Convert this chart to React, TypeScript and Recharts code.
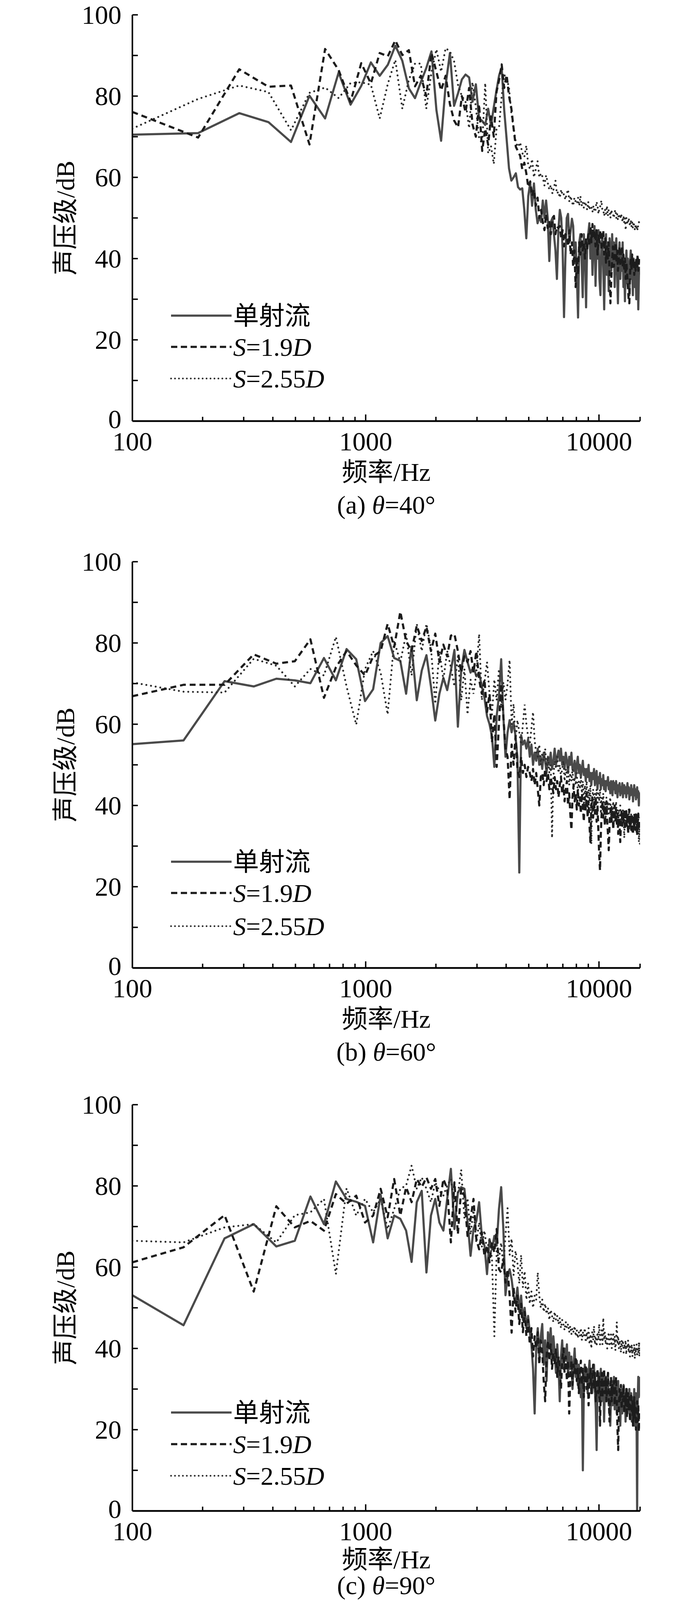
import React from 'react';
import { LineChart, Line, XAxis, YAxis } from 'recharts';

// ---------- frequency grid (FFT bins read from point spacing) ----------
const BIN_A_HZ = 95.7; // panel (a)
const BIN_BC_HZ = 82.8; // panels (b), (c)
const bins = (df: number, kMax: number) => [
  100,
  ...Array.from({ length: kMax - 1 }, (_, i) => Math.round((i + 2) * df * 10) / 10),
];
const FREQ_A = bins(BIN_A_HZ, 156);
const FREQ_BC = bins(BIN_BC_HZ, 181);

// ---------- ticks ----------
const X_MAJOR = [100, 1000, 10000];
const X_TICKS = [100, 200, 300, 400, 500, 600, 700, 800, 900, 1000, 2000, 3000, 4000, 5000, 6000, 7000, 8000, 9000, 10000, 15000];
const Y_TICKS = [0, 10, 20, 30, 40, 50, 60, 70, 80, 90, 100];
const Y_LABELED = [0, 20, 40, 60, 80, 100];

// ---------- series labels ----------
const SERIES_NAMES = ['单射流', 'S=1.9D', 'S=2.55D'];
const CAPTIONS = [
  { tag: '(a) ', angle: '=40°' },
  { tag: '(b) ', angle: '=60°' },
  { tag: '(c) ', angle: '=90°' },
];

// ---------- panel (a) θ=40° ----------
const SOLID_A = [
  70.5,
  70.9, 75.8, 73.6, 68.7, 80.1, 74.5, 85.8, 77.9, 82.5, 88.3,
  85.0, 87.7, 92.4, 88.7, 81.9, 79.5, 83.4, 86.9, 91.0, 76.6,
  69.0, 82.7, 90.6, 77.6, 80.7, 84.1, 85.3, 84.6, 78.6, 82.9,
  74.5, 73.9, 72.9, 76.9, 72.8, 77.3, 81.4, 85.1, 87.0, 76.6,
  69.4, 62.2, 59.2, 60, 61, 57.6, 57, 57.3, 52, 45,
  55.4, 58.7, 53, 58.5, 52, 48.7, 50.4, 49, 54.3, 50,
  54.3, 50, 39.4, 49, 50, 46, 42, 35, 47, 52,
  50, 42, 25.6, 40, 50, 51, 44, 47, 49.8, 48,
  38.8, 44, 36, 25.5, 44, 46, 40, 30.5, 46, 42,
  28, 44, 46, 48.7, 40, 47, 36, 44, 48, 33.3,
  44, 40, 47, 35, 31, 43, 46, 38, 27.5, 40,
  46, 36, 44, 32, 45, 42, 37, 46, 38, 44,
  33, 42, 45, 36, 29, 40, 44, 35, 41, 37,
  44, 33, 39, 29.5, 38, 42, 34, 40, 36, 31,
  39, 42, 35, 38, 31, 40, 36, 33, 38, 30,
  37, 39, 27.5, 36, 38,
];
const DASHED_A = [
  76.1,
  69.8, 86.6, 82.3, 82.6, 68.1, 91.6, 86.4, 78.6, 88.1, 83.1,
  90.6, 89.8, 93.7, 90.1, 91.3, 82.4, 85, 80, 90.6, 86,
  81.4, 85, 78, 74, 72.3, 80, 76, 82, 73, 70,
  78, 66.5, 72, 68, 75, 70, 81, 84, 87.8, 82,
  85.2, 80, 77, 72, 67.5, 66.4, 65.3, 62, 63.6, 61,
  57.6, 59, 55.4, 57, 53, 55, 50, 52, 49, 47,
  51, 47.5, 49, 46, 50, 50.5, 46, 48, 47.5, 48,
  45, 47, 43, 46, 45.5, 43, 47, 41, 44, 38,
  42, 33, 40, 36, 44, 41, 46, 42, 44, 40,
  45, 42, 46, 43, 48, 44, 48.5, 45, 47, 43,
  47, 41, 46, 44, 47, 42, 45, 47, 41, 45,
  39, 43, 40, 44, 36, 29, 35, 40, 43, 38,
  41, 44, 39, 42, 37, 40, 43, 38, 42, 43,
  38, 41, 37, 40, 35, 39, 36, 33, 30, 29,
  36, 40, 37, 41, 38, 40, 36, 39, 37, 40,
  38, 41, 37, 39, 40,
];
const DOTTED_A = [
  72.0,
  79.3, 82.6, 81.0, 71.6, 80.8, 82.1, 79.5, 83.2, 83.4, 82.8,
  74.5, 83.0, 88.9, 76.9, 84, 88, 88, 76.9, 85.8, 91.5,
  86, 91.8, 91, 88.6, 82.7, 80, 78.6, 72.1, 83.4, 77.3,
  69.7, 68.3, 83.2, 65.9, 67.7, 63.3, 71.8, 72.5, 80, 85.2,
  84.5, 82, 75.8, 72, 68.6, 67.5, 68.6, 66, 65, 67.8,
  63, 62, 64.5, 60, 62, 64, 60, 61, 60, 58,
  60.5, 58.7, 57, 58.1, 56, 57.5, 59.2, 56, 56.5, 55,
  57, 55.5, 55.9, 54.5, 56, 57, 54, 55.4, 54, 53,
  55, 54, 53.5, 55, 53, 55.4, 53, 54, 52.5, 54,
  53.2, 52, 54, 52, 53, 52.6, 51.5, 53, 51.5, 52,
  54, 53, 51, 52.5, 53, 54.3, 52, 52, 50.5, 52,
  51, 53, 50.5, 52, 51.5, 50, 52, 51, 51, 50,
  51.5, 52, 50, 51, 49.5, 51, 50.5, 49.8, 51, 50,
  49, 50.5, 49, 50, 47, 50, 49, 48.5, 50, 49,
  48, 49.5, 48, 49, 47.5, 49, 48, 47, 48.5, 47.2,
  48, 47, 48.5, 49, 48,
];

// ---------- panel (b) θ=60° ----------
const SOLID_B = [
  55.1,
  56.0, 70.6, 69.3, 71.2, 70.8, 70.1, 76.3, 70.8, 78.5, 76,
  65.7, 68.6, 80, 81.7, 76.3, 75.6, 67.5, 79.1, 65.9, 73.2,
  77, 69.3, 60.9, 67.5, 71.4, 68.4, 73.2, 78.3, 59.4, 73.2,
  78.3, 75.3, 72.7, 74.1, 71.8, 72.7, 69.3, 66.5, 62, 60,
  57, 49.5, 62, 67, 76, 62, 52, 58, 61, 58,
  60.5, 57, 52, 23.5, 57.3, 55, 56, 54, 56.4, 52,
  55, 50, 53, 51, 54, 50, 52, 49, 53, 51,
  48, 52, 50, 53, 49, 51, 54, 50, 52, 53.5,
  51, 54, 50, 52, 49, 53, 51, 48, 52, 50,
  53, 49, 48.5, 51, 47, 50, 52, 48, 50, 47,
  49, 51, 47.5, 49, 46, 49, 47, 50, 46, 48,
  45, 48, 46.5, 49, 45, 47, 48.5, 44, 47, 45.5,
  48, 44, 46.5, 45, 47.5, 44, 46, 43.5, 46, 45,
  47, 44, 45.6, 43, 46, 44.5, 42.5, 46, 44, 45.5,
  43, 46, 44, 42, 45, 43.5, 45.5, 42.5, 44.5, 43,
  45.5, 42, 44, 45, 43, 44.5, 42, 44, 45.5, 43,
  44.5, 41.5, 44, 42.5, 45, 43, 44, 41, 43.5, 45,
  42.5, 44, 41.5, 43, 44.5, 42, 43.5, 40, 43, 43,
];
const DASHED_B = [
  66.9,
  69.7, 69.7, 77.2, 74.9, 75.5, 80.9, 66.5, 74, 78, 74.5,
  72.0, 76.7, 78.0, 84.7, 79, 87.7, 80.5, 78, 84.3, 80.5,
  84, 78, 82.3, 75.3, 79.6, 76.7, 81.8, 82.2, 78, 72.7,
  76.7, 75.3, 78, 72.7, 78, 71, 67.5, 71, 63, 67.5,
  55.5, 62.5, 49.5, 60, 70, 62, 54, 52, 41.5, 55,
  50, 57, 49, 47, 52, 48, 50, 47, 49.5, 48,
  46, 49, 45, 48, 44, 40, 47, 48, 45, 49,
  46, 48, 44, 47, 45, 43, 47, 44, 46, 42,
  45, 47, 43, 45, 41, 44, 46, 40, 43, 38,
  34, 42, 45, 41, 43, 39, 44, 40, 42, 38,
  43, 40, 36, 42, 39, 43, 37, 41, 35, 31,
  40, 42, 37, 41, 38, 42, 36, 40, 34, 28,
  24, 33, 38, 41, 37, 40, 35, 39, 41, 36,
  33, 29, 35, 38, 40, 36, 39, 34, 38, 40,
  36, 39, 35, 38, 33, 37, 35, 31, 36, 39,
  35, 38, 36, 39, 34, 37, 39, 35, 38, 33,
  37, 39, 35, 37, 34, 38, 36, 33, 37, 35,
  38, 34, 36, 38, 33, 36, 38, 34, 36, 37,
];
const DOTTED_B = [
  70.3,
  68.0, 67.8, 76.1, 74.4, 69.3, 73.6, 72, 81.5, 69.3, 59.9,
  73.6, 78, 72.7, 62.4, 80.5, 75.3, 82.2, 72, 84.7, 78,
  84.7, 78.8, 65, 78, 71, 78, 74, 69.3, 76.7, 65.9,
  73.6, 62.4, 71, 67.5, 72.7, 82.2, 65.9, 70.3, 75.3, 67.5,
  62.4, 71, 65.9, 73.6, 64, 70.3, 66, 70, 75.8, 60,
  65, 56, 61, 58, 55, 60, 64.8, 60, 57, 55,
  59, 63, 56, 53, 52, 55, 50, 53, 51, 54,
  49, 52, 48, 50, 32, 47, 51, 49, 52, 48,
  50, 47, 49, 51, 46, 49, 47, 50, 45, 48,
  46, 49, 44, 47, 45, 48, 43, 46, 44, 47,
  43, 46, 40, 45, 42, 46, 38, 44, 41, 45,
  30.5, 42, 44, 40, 43, 41, 44, 39, 43, 41,
  44, 38, 42, 40, 43, 39, 41, 37, 42, 39,
  41, 38, 40, 42, 37, 40, 38, 41, 36, 40,
  38, 41, 37, 39, 35, 39, 37, 40, 36, 38,
  35, 39, 37, 32, 38, 36, 39, 35, 38, 36,
  39, 34, 37, 35, 38, 36, 33, 37, 35, 38,
  34, 36, 38, 33, 36, 35, 37, 31, 35, 29.5,
];

// ---------- panel (c) θ=90° ----------
const SOLID_C = [
  53.1,
  45.7, 67.1, 70.6, 65.1, 66.5, 77.4, 70.6, 81.1, 76.8, 76.1,
  75.1, 66.1, 77.8, 67.1, 72.7, 71.9, 69, 61.3, 76, 78.8,
  58.7, 72.7, 76.8, 71, 69, 76.8, 84.2, 69.4, 78.4, 79.7,
  79.3, 71.4, 62.8, 69.4, 71.4, 76, 67.7, 65.3, 58.3, 66.9,
  64.4, 67.7, 65.3, 74.3, 79.7, 69.4, 53.1, 57.9, 59.5, 57,
  53, 51, 55, 49, 53, 47, 50, 45, 48, 44,
  41, 35, 24, 40, 45, 38, 43, 46, 36, 42,
  32, 44, 40, 45, 37, 43, 39, 34, 41, 36,
  27, 38, 42, 35, 40, 37, 41, 33, 39, 35,
  38, 30, 36, 40, 33, 37, 31, 36, 34, 28,
  33, 10, 30, 36, 32, 35, 29, 34, 37, 31,
  35, 29, 33, 36, 30, 25, 15, 30, 34, 28,
  32, 35, 27, 31, 34, 22, 30, 33, 27, 31,
  34, 26, 30, 21, 28, 32, 26, 30, 33, 25,
  29, 31, 24, 28, 32, 26, 29, 21, 27, 30,
  24, 28, 31, 25, 29, 22, 27, 30, 24, 28,
  25, 30, 23, 27, 29, 22, 26, 28, 24, 30,
  21, 26, 29, 23, 0, 27, 33, 28, 30, 33,
];
const DASHED_C = [
  61.2,
  64.9, 72.8, 54, 75, 69.8, 71.4, 69, 78, 75.6, 77.6,
  71, 72.7, 79.3, 72.3, 81.7, 72.7, 79.7, 76, 81.7, 79.7,
  82.1, 79.3, 81.7, 75.1, 81.7, 79.3, 66.1, 80.9, 68.1, 79.3,
  77.6, 67.7, 71.9, 76.8, 66.9, 64.4, 68.6, 62.8, 65.3, 61.2,
  66.1, 63.6, 69.4, 59.5, 58.7, 62, 56.2, 59.5, 52.9, 43.9,
  55, 49, 53, 46, 51, 44, 49, 43, 47, 41,
  45, 38, 43, 40, 44, 36, 42, 39, 32, 27,
  38, 42, 37, 41, 35, 39, 36, 40, 33, 38,
  35, 30, 37, 40, 34, 38, 32, 37, 24, 33,
  37, 31, 36, 34, 38, 32, 35, 29, 34, 37,
  31, 35, 28, 33, 36, 30, 34, 26, 32, 35,
  29, 33, 36, 30, 34, 27, 32, 35, 29, 33,
  21, 30, 34, 28, 32, 35, 29, 33, 27, 31,
  34, 28, 22, 30, 33, 27, 31, 29, 32, 26,
  30, 33, 27, 20, 15, 26, 30, 27, 31, 25,
  29, 27, 31, 24, 28, 26, 30, 23, 27, 29,
  25, 28, 22, 26, 29, 24, 27, 21, 25, 28,
  23, 26, 20, 25, 27, 22, 26, 19.5, 24, 25,
];
const DOTTED_C = [
  66.5,
  66.1, 69.8, 70.6, 66.1, 72.8, 73.5, 76.8, 58.3, 79.4, 72.7,
  76.8, 73.5, 76.8, 69.4, 74.3, 79.3, 80.1, 85, 79.3, 82.1,
  79.3, 76, 80.9, 78.8, 77.6, 80.1, 81.7, 76, 78, 84,
  72, 77, 68, 74, 66, 71, 65, 69, 64, 67,
  62, 43, 64, 62, 66, 60, 68, 74.5, 63, 67,
  58, 64, 61, 56, 63, 55, 59, 52, 56, 51,
  54, 50, 53, 52, 58.7, 53, 50, 52, 49, 51,
  48.5, 50, 47, 49.5, 48, 46.5, 49, 47, 48, 46,
  47.5, 45, 47, 46, 44.5, 46.5, 45, 46, 44, 45.5,
  43.5, 45, 44, 45.5, 43, 44.5, 42.5, 44, 43, 45,
  42, 44, 43, 45, 41.5, 44, 42, 45, 41, 43.5,
  40, 44, 42, 45.5, 41, 43, 40.5, 44, 42, 46,
  41, 43, 44.5, 41, 47.5, 42, 44, 41, 43, 40,
  42.5, 44, 40.5, 42, 43.5, 40, 42, 44, 41, 43,
  39.5, 42, 46.5, 41, 43, 40, 42, 41, 39, 42,
  40.5, 42, 39, 41, 40, 42, 38.5, 41, 40, 42,
  39, 41, 38, 40.5, 39.5, 41, 38, 40, 39, 41,
  37.5, 40, 39, 41, 38, 40, 39, 41.5, 38, 42,
];

const makeRows = (freq: number[], s: number[], d: number[], t: number[]) =>
  freq.map((f, i) => ({ f, s: s[i], d: d[i], t: t[i] }));

const ROWS = [
  makeRows(FREQ_A, SOLID_A, DASHED_A, DOTTED_A),
  makeRows(FREQ_BC, SOLID_B, DASHED_B, DOTTED_B),
  makeRows(FREQ_BC, SOLID_C, DASHED_C, DOTTED_C),
];

// ---------- style ----------
const FONT = '"Liberation Serif", "Times New Roman", "Noto Sans CJK SC", serif';
const C_SOLID = '#4a4a4a';
const C_DASH = '#1c1c1c';
const C_DOT = '#2e2e2e';
const PLOT_TOP = 38;
const PLOT_H = 1040;
const AXIS_Y = PLOT_TOP + PLOT_H;
const PLOT_LEFT = 339;
const PLOT_RIGHT = 1639;
const X_AXIS_H = 100;

const XTick = (props: any) => {
  const { x, y, payload } = props;
  const v = payload.value;
  const major = X_MAJOR.includes(v);
  return (
    <g>
      <line x1={x} x2={x} y1={y} y2={y - (major ? 17 : 11)} stroke="#000" strokeWidth={3.5} />
      {major && (
        <text x={x} y={y + 52} textAnchor="middle" dominantBaseline="central" fontFamily={FONT} fontSize={68} fill="#000">
          {v}
        </text>
      )}
    </g>
  );
};

const YTick = (props: any) => {
  const { x, y, payload } = props;
  const v = payload.value;
  return (
    <g>
      <line x1={x} x2={x + 14} y1={y} y2={y} stroke="#000" strokeWidth={3.5} />
      {Y_LABELED.includes(v) && (
        <text x={x - 28} y={v === 0 ? y - 5 : y} textAnchor="end" dominantBaseline="central" fontFamily={FONT} fontSize={68} fill="#000">
          {v}
        </text>
      )}
    </g>
  );
};

const Panel = ({ idx, top, height, legendY, capGap, labelGap }: { idx: number; top: number; height: number; legendY: number[]; capGap: number; labelGap: number }) => {
  const cap = CAPTIONS[idx];
  const cx = (PLOT_LEFT + PLOT_RIGHT) / 2;
  return (
    <div style={{ position: 'absolute', left: 0, top, width: 1772, height }}>
      <LineChart
        width={1772}
        height={height}
        data={ROWS[idx]}
        margin={{ top: PLOT_TOP, right: 1772 - PLOT_RIGHT, bottom: height - AXIS_Y - X_AXIS_H, left: 0 }}
      >
        <XAxis
          dataKey="f"
          type="number"
          scale="log"
          domain={[100, 15000]}
          allowDataOverflow
          ticks={X_TICKS}
          interval={0}
          tick={(p: any) => <XTick {...p} />}
          tickLine={false}
          tickSize={0}
          tickMargin={0}
          axisLine={{ stroke: '#000', strokeWidth: 4.5 }}
          height={X_AXIS_H}
        />
        <YAxis
          type="number"
          domain={[0, 100]}
          allowDataOverflow
          ticks={Y_TICKS}
          interval={0}
          tick={(p: any) => <YTick {...p} />}
          tickLine={false}
          tickSize={0}
          tickMargin={0}
          axisLine={{ stroke: '#000', strokeWidth: 4 }}
          width={PLOT_LEFT}
        />
        <Line dataKey="s" stroke={C_SOLID} strokeWidth={5.5} dot={false} activeDot={false} isAnimationActive={false} strokeLinejoin="round" />
        <Line dataKey="t" stroke={C_DOT} strokeWidth={5} strokeDasharray="0.1 12" strokeLinecap="round" dot={false} activeDot={false} isAnimationActive={false} />
        <Line dataKey="d" stroke={C_DASH} strokeWidth={5.5} strokeDasharray="15 10" dot={false} activeDot={false} isAnimationActive={false} strokeLinejoin="round" />
      </LineChart>
      <svg
        width={1772}
        height={height}
        style={{ position: 'absolute', left: 0, top: 0, overflow: 'visible', pointerEvents: 'none' }}
        fontFamily={FONT}
        fill="#000"
      >
        <text transform={`translate(167, ${PLOT_TOP + PLOT_H / 2}) rotate(-90)`} textAnchor="middle" dominantBaseline="central" fontSize={66}>
          声压级/dB
        </text>
        <text x={cx} y={AXIS_Y + labelGap} textAnchor="middle" dominantBaseline="central" fontSize={66}>
          频率/Hz
        </text>
        <text x={cx} y={AXIS_Y + capGap} textAnchor="middle" dominantBaseline="central" fontSize={66}>
          {cap.tag}
          <tspan fontStyle="italic">θ</tspan>
          {cap.angle}
        </text>
        <line x1={438} x2={593} y1={legendY[0]} y2={legendY[0]} stroke={C_SOLID} strokeWidth={5.5} />
        <text x={597} y={legendY[0]} dominantBaseline="central" fontSize={66}>
          {SERIES_NAMES[0]}
        </text>
        <line x1={438} x2={593} y1={legendY[1]} y2={legendY[1]} stroke={C_DASH} strokeWidth={5.5} strokeDasharray="16 9" />
        <text x={597} y={legendY[1]} dominantBaseline="central" fontSize={66}>
          <tspan fontStyle="italic">S</tspan>=1.9<tspan fontStyle="italic">D</tspan>
        </text>
        <line x1={438} x2={593} y1={legendY[2]} y2={legendY[2]} stroke={C_DOT} strokeWidth={4.5} strokeDasharray="0.1 10" strokeLinecap="round" />
        <text x={597} y={legendY[2]} dominantBaseline="central" fontSize={66}>
          <tspan fontStyle="italic">S</tspan>=2.55<tspan fontStyle="italic">D</tspan>
        </text>
      </svg>
    </div>
  );
};

export default function App() {
  return (
    <div style={{ position: 'absolute', left: 0, top: 0, width: 1772, height: 4142, background: '#fff', overflow: 'hidden' }}>
      <Panel idx={0} top={0} height={1400} legendY={[808, 888, 969]} capGap={214} labelGap={130} />
      <Panel idx={1} top={1400} height={1400} legendY={[806, 886, 971]} capGap={214} labelGap={130} />
      <Panel idx={2} top={2790} height={1352} legendY={[826, 907, 988]} capGap={190} labelGap={124} />
    </div>
  );
}
